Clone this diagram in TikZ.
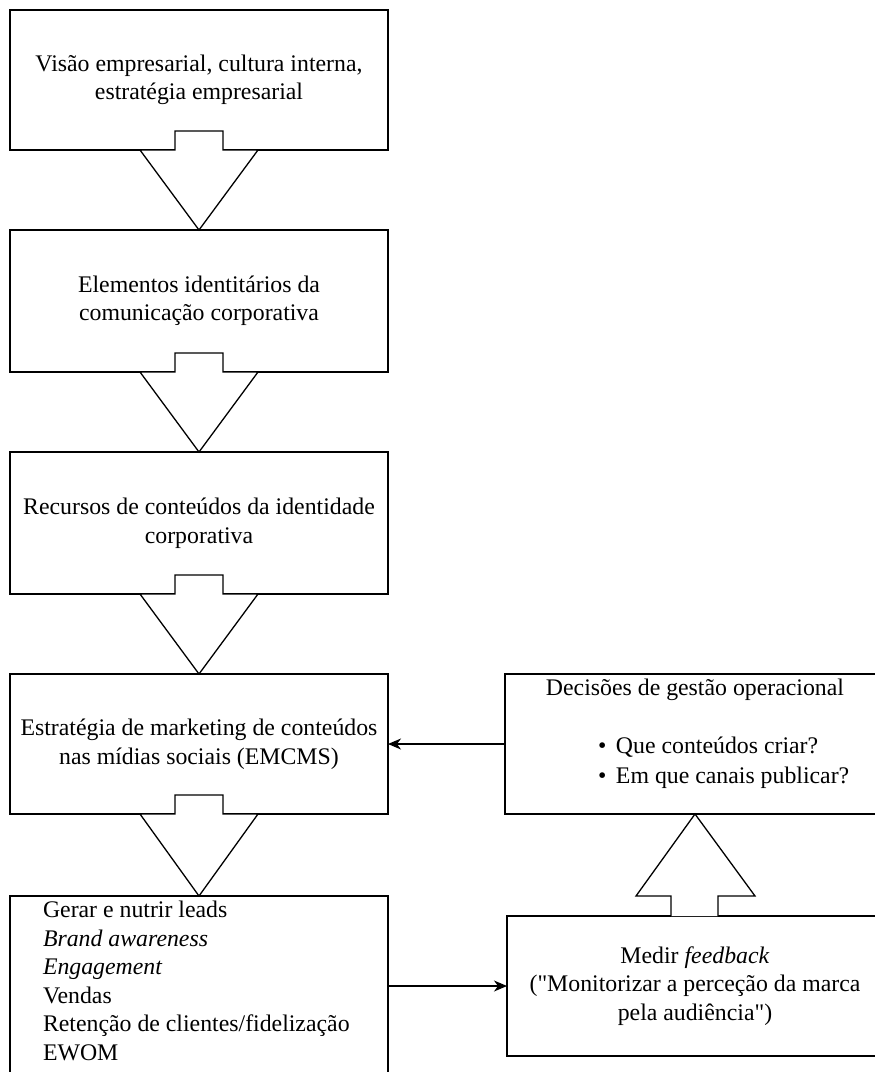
\documentclass[tikz,border=0pt]{standalone}
\usepackage{fontspec}
\setmainfont{Liberation Serif}[Ligatures=TeXOff]
\usetikzlibrary{arrows.meta}
% hollow block arrow pointing down from the bottom of #1 to the top of #2
\newcommand{\flowdown}[2]{%
  \draw[blockarrow]
    ([xshift=-24pt,yshift=19pt]#1.south) -- ([xshift=24pt,yshift=19pt]#1.south)
    -- ([xshift=24pt]#1.south) -- ([xshift=59pt]#1.south)
    -- (#2.north)
    -- ([xshift=-59pt]#1.south) -- ([xshift=-24pt]#1.south) -- cycle;}
\begin{document}
\begin{tikzpicture}[x=1pt,y=-1pt,
  txt/.style={font=\fontsize{23.8}{28.5}\selectfont},
  box/.style={draw, line width=1.3pt, fill=white, inner sep=0pt, outer sep=0pt,
    align=center, txt},
  lbl/.style={inner sep=0pt, outer sep=0pt, txt},
  blockarrow/.style={draw, line width=1.3pt, fill=white, line join=miter},
  link/.style={line width=1.3pt, -{Stealth[length=13pt,width=11pt,inset=4pt]}}]
\useasboundingbox (0,0) rectangle (875,1072);
\clip (0,0) rectangle (875,1072);

% left column
\node[box, minimum width=378pt, minimum height=140pt] (b1) at (199,80)
  {Visão empresarial, cultura interna,\\estratégia empresarial};
\node[box, minimum width=378pt, minimum height=142pt] (b2) at (199,301)
  {Elementos identitários da\\comunicação corporativa};
\node[box, minimum width=378pt, minimum height=142pt] (b3) at (199,523)
  {Recursos de conteúdos da identidade\\corporativa};
\node[box, minimum width=378pt, minimum height=140pt] (b4) at (199,744)
  {Estratégia de marketing de conteúdos\\nas mídias sociais (EMCMS)};
\node[box, minimum width=378pt, minimum height=210pt] (b5) at (199,1001) {};
\node[lbl, anchor=north west, align=left] (b5text) at (43,901)
  {Gerar e nutrir leads\\\textit{Brand awareness}\\\textit{Engagement}\\Vendas\\Retenção de clientes/fidelização\\EWOM};

% right column
\node[box, minimum width=380pt, minimum height=140pt] (r1) at (695,744) {};
\node[lbl, anchor=north] (r1title) at ([yshift=-5pt]r1.north) {Decisões de gestão operacional};
\node[lbl, anchor=west] (r1q1) at (598,747)
  {\makebox[18pt][l]{\textbullet}Que conteúdos criar?};
\node[lbl, anchor=west] (r1q2) at (598,778)
  {\makebox[18pt][l]{\textbullet}Em que canais publicar?};
\node[box, minimum width=376pt, minimum height=140pt] (r2) at (695,986)
  {Medir \textit{feedback}\\("Monitorizar a perceção da marca\\pela audiência")};

% block arrows down the left column
\flowdown{b1}{b2}
\flowdown{b2}{b3}
\flowdown{b3}{b4}
\flowdown{b4}{b5}

% block arrow up the right column
\draw[blockarrow]
  ([xshift=-24pt]r2.north) -- ([xshift=-24pt,yshift=20pt]r2.north)
  -- ([xshift=-59pt,yshift=20pt]r2.north) -- (r2.north |- r1.south)
  -- ([xshift=60pt,yshift=20pt]r2.north) -- ([xshift=23pt,yshift=20pt]r2.north)
  -- ([xshift=23pt]r2.north);

% plain connectors
\draw[link] (r1.west) -- (b4.east);
\draw[link] (r2.west -| b5.east) -- (r2.west);
\end{tikzpicture}
\end{document}
